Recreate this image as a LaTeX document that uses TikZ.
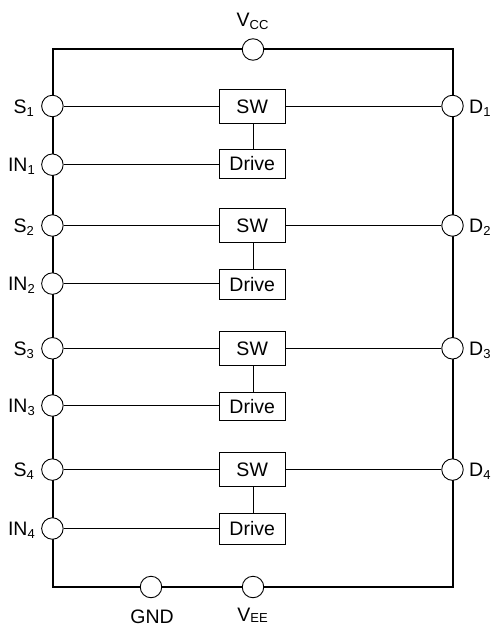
\documentclass[tikz,border=0pt]{standalone}
\usepackage{fontspec}
\setmainfont{Liberation Sans}
\tikzset{x=1pt,y=-1pt,
 pin/.style={circle,draw=black,fill=white,line width=0.9pt,minimum size=21.5pt,inner sep=0pt},
 blk/.style={rectangle,draw=black,fill=white,line width=0.9pt,minimum width=66pt,inner sep=0pt,font=\fontsize{19.5}{19.5}\selectfont},
 rail/.style={line width=2pt,line cap=rect},
 wire/.style={line width=0.9pt},
 lab/.style={inner sep=0pt,font=\fontsize{19.5}{19.5}\selectfont}}
\newcommand{\sbs}[2][3pt]{\raisebox{-#1}{\fontsize{13}{13}\selectfont #2}}
\begin{document}
\begin{tikzpicture}
\useasboundingbox (0,0) rectangle (493,626);
\coordinate (tl) at (53,49.5);\coordinate (tr) at (453,49.5);
\coordinate (bl) at (53,587);\coordinate (br) at (453,587);
\draw[rail] (tl)--(tr)--(br)--(bl)--cycle;
\node[pin] (vcc) at (253,49.5){};
\node[pin] (gnd) at (151,587){};
\node[pin] (vee) at (253,587){};
\node[lab,anchor=base] (lvcc) at (252.5,26.5){V\sbs{CC}};
\node[lab,anchor=base] (lgnd) at (152,623){GND};
\node[lab,anchor=base] (lvee) at (252.5,621){V\sbs[1.5pt]{EE}};
\foreach \i/\a/\b/\sy/\sh/\dy/\dh in {1/106/164.7/106.3/34/164/29,2/225.5/283.6/225.4/34/284.2/30,3/348.3/405.5/348.5/34/406.2/28.5,4/469.6/528.5/469.7/34/528.5/31}{
 \node[pin] (s\i) at (52.4,\a){};
 \node[pin] (in\i) at (52.4,\b){};
 \node[pin] (d\i) at (452.5,\a){};
 \node[blk,minimum height=\sh pt] (sw\i) at (252.2,\sy){SW};
 \node[blk,minimum height=\dh pt] (dr\i) at (252.2,\dy){Drive};
 \draw[wire] (s\i)--(s\i-|sw\i.west) (sw\i.east|-d\i)--(d\i) (in\i)--(in\i-|dr\i.west) (sw\i.south-|vcc)--(dr\i.north-|vcc);
 \node[lab,anchor=base east] (ls\i) at (34,\a+7){S\sbs{\i}};
 \node[lab,anchor=base east] (lin\i) at (35,\b+7){IN\sbs{\i}};
 \node[lab,anchor=base west] (ld\i) at (469,\a+7){D\sbs{\i}};
}
\end{tikzpicture}
\end{document}
